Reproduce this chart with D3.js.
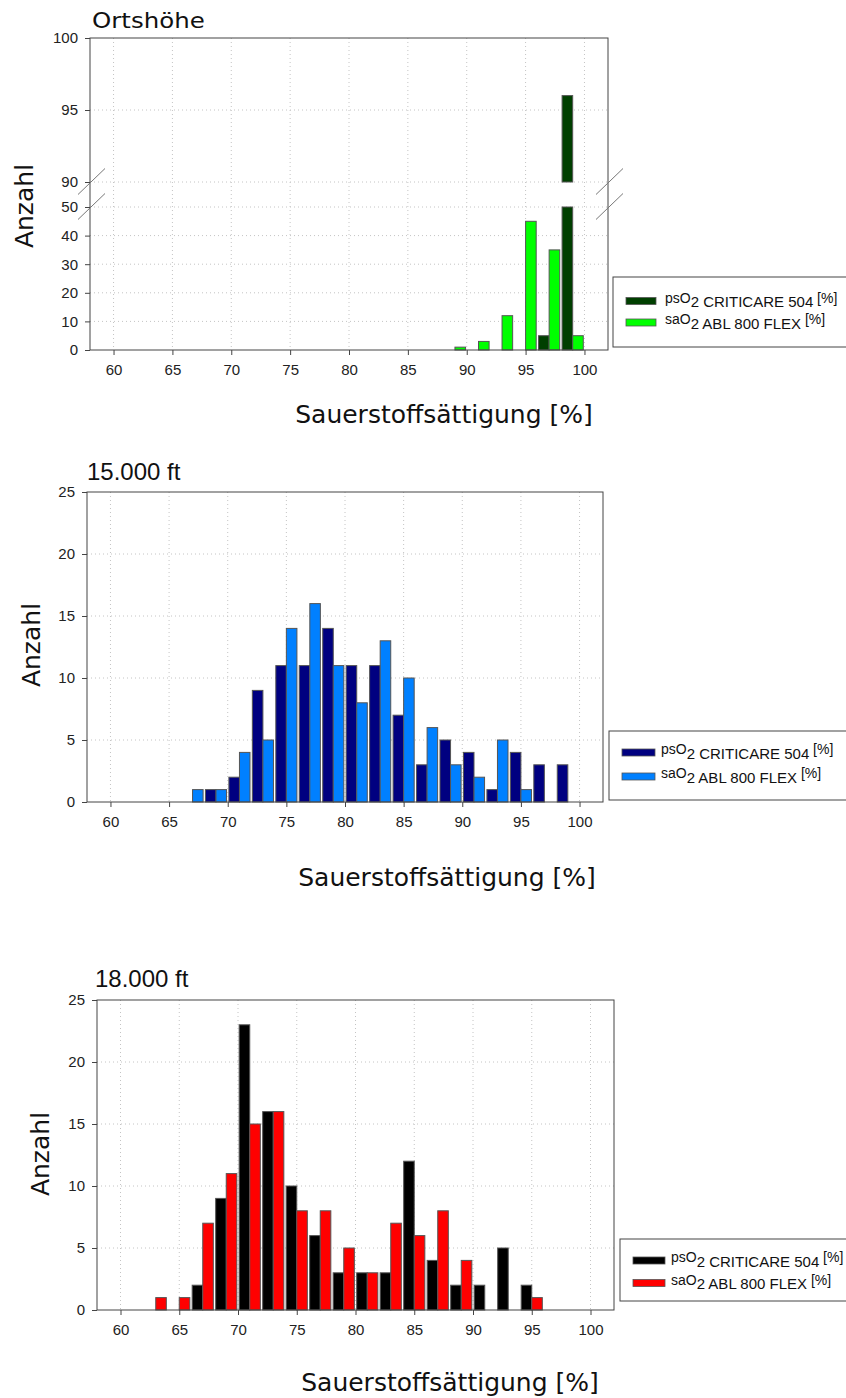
<!DOCTYPE html>
<html><head><meta charset="utf-8">
<script src="https://cdn.jsdelivr.net/npm/d3@7"></script>
<style>body{margin:0;background:#fff} svg{display:block}</style>
</head><body>
<svg id="chart" width="846" height="1398"></svg>
<script>
// Counts per 2 %-wide saturation bin (bins labelled by their centre)
const ortBins = [89, 91, 93, 95, 97, 99];
const ortPs   = [0, 0, 0, 0, 5, 96];
const ortSa   = [1, 3, 12, 45, 35, 5];

const ft15Bins = [67, 69, 71, 73, 75, 77, 79, 81, 83, 85, 87, 89, 91, 93, 95, 97, 99];
const ft15Ps   = [0, 1, 2, 9, 11, 11, 14, 11, 11, 7, 3, 5, 4, 1, 4, 3, 3];
const ft15Sa   = [1, 1, 4, 5, 14, 16, 11, 8, 13, 10, 6, 3, 2, 5, 1, 0, 0];

const ft18Bins = [63, 65, 67, 69, 71, 73, 75, 77, 79, 81, 83, 85, 87, 89, 91, 93, 95];
const ft18Ps   = [0, 0, 2, 9, 23, 16, 10, 6, 3, 3, 3, 12, 4, 2, 2, 5, 2];
const ft18Sa   = [1, 1, 7, 11, 15, 16, 8, 8, 5, 3, 7, 6, 8, 4, 0, 0, 1];

const xTicks       = [60, 65, 70, 75, 80, 85, 90, 95, 100];
const ortLowTicks  = [0, 10, 20, 30, 40, 50];
const ortHighTicks = [90, 95, 100];
const countTicks   = [0, 5, 10, 15, 20, 25];

const panelTitles = ["Ortshöhe", "15.000 ft", "18.000 ft"];
const xTitle = "Sauerstoffsättigung [%]";
const yTitle = "Anzahl";
// legend labels split into: base, subscript run, trailing unit
const legendPs = ["psO", "2 CRITICARE 504", " [%]"];
const legendSa = ["saO", "2 ABL 800 FLEX", " [%]"];

const colorsOrt  = ["#003f00", "#00ff00"];
const colors15   = ["#000080", "#0080ff"];
const colors18   = ["#000000", "#ff0000"];

const svg = d3.select("#chart");
const SANS = "'Liberation Sans', Arial, sans-serif";
const VERD = "'DejaVu Sans', Verdana, sans-serif";
const FRAME = "#444";

const panels = [
  {
    bins: ortBins, ps: ortPs, sa: ortSa, colors: colorsOrt, title: panelTitles[0],
    titleFont: VERD, titlePos: [92, 28], titleSize: 24.5, titleSy: 0.85,
    left: 90, right: 608, top: 38, bottom: 350,
    segments: [
      {domain: [0, 50], range: [350, 207], ticks: ortLowTicks},
      {domain: [90, 100], range: [182, 38], ticks: ortHighTicks}
    ],
    brk: true,
    xTitlePos: [444, 423], yTitlePos: [33, 206],
    legend: {x: 613, y: 277, h: 70, sx: 626, sw: 30, tx: 665, rows: [301, 322.5]}
  },
  {
    bins: ft15Bins, ps: ft15Ps, sa: ft15Sa, colors: colors15, title: panelTitles[1],
    titleFont: SANS, titlePos: [87, 480], titleSize: 24, titleSy: 1,
    left: 87, right: 603, top: 492, bottom: 802,
    segments: [{domain: [0, 25], range: [802, 492], ticks: countTicks}],
    brk: false,
    xTitlePos: [447, 886], yTitlePos: [40, 645],
    legend: {x: 609, y: 731, h: 69, sx: 622, sw: 33, tx: 661, rows: [752.5, 776.5]}
  },
  {
    bins: ft18Bins, ps: ft18Ps, sa: ft18Sa, colors: colors18, title: panelTitles[2],
    titleFont: SANS, titlePos: [95, 987], titleSize: 24, titleSy: 1,
    left: 97, right: 614, top: 1000, bottom: 1310,
    segments: [{domain: [0, 25], range: [1310, 1000], ticks: countTicks}],
    brk: false,
    xTitlePos: [450, 1391], yTitlePos: [49, 1154],
    legend: {x: 620, y: 1239, h: 62, sx: 633, sw: 32, tx: 671, rows: [1260.5, 1283]}
  }
];

const BAR = 0.9; // bar width in % units

panels.forEach(p => {
  const g = svg.append("g");
  const x = d3.scaleLinear().domain([58, 102]).range([p.left, p.right]);

  // vertical grid
  g.append("g").selectAll("line").data(xTicks).join("line")
    .attr("x1", d => x(d)).attr("x2", d => x(d))
    .attr("y1", p.top).attr("y2", p.bottom)
    .attr("stroke", "#c4c4c4").attr("stroke-width", 1).attr("stroke-dasharray", "1,3");

  p.segments.forEach(seg => {
    const y = d3.scaleLinear().domain(seg.domain).range(seg.range);
    // horizontal grid
    g.append("g").selectAll("line").data(seg.ticks.filter(t => t > 0 && t < 100 && t !== 25))
      .join("line")
      .attr("x1", p.left).attr("x2", p.right)
      .attr("y1", d => y(d)).attr("y2", d => y(d))
      .attr("stroke", "#c4c4c4").attr("stroke-width", 1).attr("stroke-dasharray", "1,3");

    // bars for both series inside this segment
    const lo = seg.domain[0], hi = seg.domain[1];
    const rows = p.bins.map((c, i) => ({c, ps: p.ps[i], sa: p.sa[i]}));
    [["ps", -BAR, 0], ["sa", 0, 1]].forEach(([key, off, ci]) => {
      g.append("g").selectAll("rect")
        .data(rows.filter(r => r[key] > lo))
        .join("rect")
        .attr("x", r => x(r.c + off))
        .attr("width", r => x(r.c + off + BAR) - x(r.c + off))
        .attr("y", r => y(Math.min(r[key], hi)))
        .attr("height", r => y(lo) - y(Math.min(r[key], hi)))
        .attr("fill", p.colors[ci])
        .attr("stroke", "#555").attr("stroke-width", 1);
    });

    // left axis ticks
    const ay = d3.axisLeft(y).tickValues(seg.ticks).tickSize(5).tickPadding(7).tickFormat(d3.format("d"));
    const axg = g.append("g").attr("transform", `translate(${p.left},0)`).call(ay);
    axg.select(".domain").remove();
    axg.selectAll("line").attr("stroke", FRAME);
    axg.selectAll("text").attr("font-family", SANS).attr("font-size", 15).attr("fill", "#222");
  });

  // bottom axis
  const ax = d3.axisBottom(x).tickValues(xTicks).tickSize(5).tickPadding(9).tickFormat(d3.format("d"));
  const axb = g.append("g").attr("transform", `translate(0,${p.bottom})`).call(ax);
  axb.select(".domain").remove();
  axb.selectAll("line").attr("stroke", FRAME);
  axb.selectAll("text").attr("font-family", SANS).attr("font-size", 15).attr("fill", "#222");

  // frame
  g.append("rect").attr("x", p.left).attr("y", p.top)
    .attr("width", p.right - p.left).attr("height", p.bottom - p.top)
    .attr("fill", "none").attr("stroke", FRAME).attr("stroke-width", 1);

  // axis break marks
  if (p.brk) {
    const yb = p.segments[1].range[0], yt = p.segments[0].range[1];
    const mid = (yb + yt) / 2;
    [p.left, p.right].forEach(ex => {
      [mid, yt + (yt - mid)].forEach(cy => {
        g.append("line")
          .attr("x1", ex - 12).attr("y1", cy)
          .attr("x2", ex + 15).attr("y2", cy - 26)
          .attr("stroke", "#777").attr("stroke-width", 1);
      });
    });
  }

  // titles
  g.append("text")
    .attr("transform", `translate(${p.titlePos[0]},${p.titlePos[1]}) scale(1,${p.titleSy})`)
    .attr("font-family", p.titleFont).attr("font-size", p.titleSize).attr("fill", "#111")
    .text(p.title);
  g.append("text").attr("x", p.xTitlePos[0]).attr("y", p.xTitlePos[1])
    .attr("text-anchor", "middle")
    .attr("font-family", VERD).attr("font-size", 25).attr("fill", "#111")
    .text(xTitle);
  g.append("text")
    .attr("transform", `translate(${p.yTitlePos[0]},${p.yTitlePos[1]}) rotate(-90)`)
    .attr("text-anchor", "middle")
    .attr("font-family", VERD).attr("font-size", 25).attr("fill", "#111")
    .text(yTitle);

  // legend
  const L = p.legend;
  g.append("rect").attr("x", L.x).attr("y", L.y).attr("width", 260).attr("height", L.h)
    .attr("fill", "#fff").attr("stroke", FRAME).attr("stroke-width", 1);
  [legendPs, legendSa].forEach((parts, i) => {
    const cy = L.rows[i];
    g.append("rect").attr("x", L.sx).attr("y", cy - 3.5).attr("width", L.sw).attr("height", 7)
      .attr("fill", p.colors[i]).attr("stroke", "#555").attr("stroke-width", 0.8);
    const t = g.append("text").attr("x", L.tx).attr("y", cy + 1.5)
      .attr("font-family", SANS).attr("fill", "#111");
    t.append("tspan").attr("font-size", 14).text(parts[0]);
    t.append("tspan").attr("font-size", 15).attr("dy", 4.5).text(parts[1]);
    t.append("tspan").attr("font-size", 14).attr("dy", -4.5).text(parts[2]);
  });
});
</script>
</body></html>
